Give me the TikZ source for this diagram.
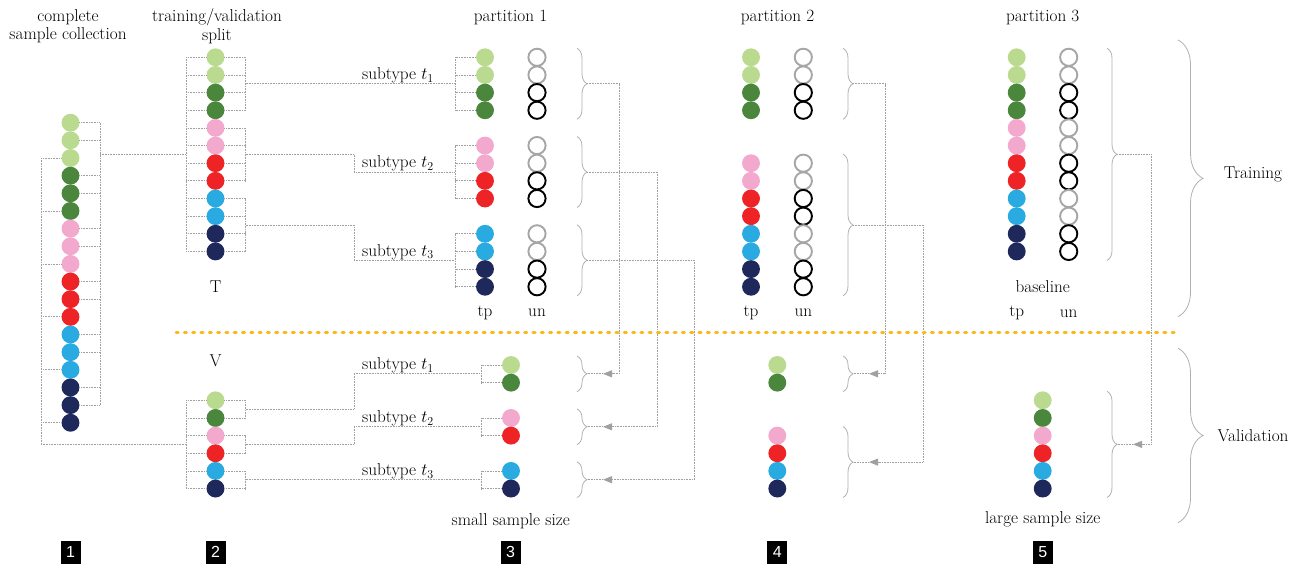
\documentclass[tikz,border=0pt]{standalone}
\usepackage{fontspec}
\newfontfamily\badgefont{Liberation Sans}
\usetikzlibrary{decorations.pathreplacing,arrows.meta}
\definecolor{lg}{HTML}{B9DA8F}
\definecolor{dg}{HTML}{4A863C}
\definecolor{pk}{HTML}{F3A8CE}
\definecolor{rd}{HTML}{EE2326}
\definecolor{bl}{HTML}{29ABE2}
\definecolor{nv}{HTML}{1F285A}
\definecolor{hg}{HTML}{A6A6A6}
\definecolor{linkgray}{HTML}{A0A0A0}
\definecolor{bracegray}{HTML}{B0B0B0}
\definecolor{orng}{HTML}{FBB81B}
\begin{document}
\begin{tikzpicture}[x=1pt,y=-1pt,
  dot/.style={circle,fill=#1,minimum size=17.9pt,inner sep=0pt,outer sep=0pt},
  hole/.style={circle,draw=#1,line width=1.9pt,minimum size=17.2pt,inner sep=0pt,outer sep=0pt},
  link/.style={draw=linkgray,line width=0.8pt,dash pattern=on 1pt off 0.6pt},
  br/.style={draw=bracegray,line width=0.8pt,decorate,decoration={brace,amplitude=#1}},
  br/.default=10pt,
  tipped/.style={link,-{Triangle[length=9pt,width=7pt]}},
  lbl/.style={font=\fontsize{17.2}{18.5}\selectfont,inner sep=0pt},
  badge/.style={fill=black,text=white,minimum width=20pt,minimum height=23pt,inner sep=0pt,font=\badgefont\fontsize{16}{16}\selectfont}
]
\useasboundingbox (0,0) rectangle (1297,567);

% ---------- headings ----------
\node[lbl,align=center] (h1) at (68,26) {complete\\sample collection};
\node[lbl,align=center] (h2) at (217,26) {training/validation\\split};
\node[lbl] (h3) at (510.5,17) {partition 1};
\node[lbl] (h4) at (777.5,17) {partition 2};
\node[lbl] (h5) at (1042.7,17) {partition 3};

% ---------- column 1 ----------
\foreach \c [count=\k from 0] in {lg,lg,lg,dg,dg,dg,pk,pk,pk,rd,rd,rd,bl,bl,bl,nv,nv,nv}
  \node[dot=\c] (a\k) at (70.5,{122.7+17.65*\k}) {};
\coordinate (aR0) at (100,122.7);
\coordinate (aR1) at (100,{122.7+17.65*16});
\coordinate (aL0) at (41,{122.7+17.65*2});
\coordinate (aL1) at (41,444.4);
\foreach \k in {0,1,3,4,6,7,9,10,12,13,15,16} \draw[link] (a\k.east) -- (a\k.east -| aR0);
\foreach \k in {2,5,8,11,14,17} \draw[link] (a\k.west) -- (a\k.west -| aL0);
\draw[link] (aR0) -- (aR1);
\draw[link] (aL0) -- (aL1);

% ---------- column 2 training ----------
\foreach \c [count=\k from 0] in {lg,lg,dg,dg,pk,pk,rd,rd,bl,bl,nv,nv}
  \node[dot=\c] (b\k) at (215.5,{57.3+17.65*\k}) {};
\coordinate (bL) at (186,57.3);
\coordinate (bR) at (245.5,57.3);
\foreach \k in {0,...,11} {
  \draw[link] (b\k.west) -- (b\k.west -| bL);
  \draw[link] (b\k.east) -- (b\k.east -| bR);
}
\draw[link] (b0.west -| bL) -- (b11.west -| bL);
\draw[link] (b0.east -| bR) -- (b3.east -| bR);
\draw[link] (b4.east -| bR) -- (b7.east -| bR);
\draw[link] (b8.east -| bR) -- (b11.east -| bR);
\coordinate (aOut) at (100,154.4);
\coordinate (bIn) at (186,154.4);
\draw[link] (aOut) -- (bIn);

\node[lbl] (T) at (215.5,286.7) {T};
\node[lbl] (V) at (215.5,360.7) {V};

% ---------- column 2 validation ----------
\foreach \k/\c in {2/lg,3/dg,4/pk,5/rd,6/bl,7/nv}
  \node[dot=\c] (c\k) at (215.5,{365+17.65*\k}) {};
\coordinate (cL) at (186,400.3);
\coordinate (cR) at (245.5,400.3);
\foreach \k in {2,...,7} {
  \draw[link] (c\k.west) -- (c\k.west -| cL);
  \draw[link] (c\k.east) -- (c\k.east -| cR);
}
\draw[link] (c2.west -| cL) -- (c7.west -| cL);
\draw[link] (c2.east -| cR) -- (c3.east -| cR);
\draw[link] (c4.east -| cR) -- (c5.east -| cR);
\draw[link] (c6.east -| cR) -- (c7.east -| cR);
\coordinate (cIn) at (186,444.4);
\draw[link] (aL1) -- (cIn);

% ---------- partition 1 training ----------
\foreach \k/\c/\h in {0/lg/hg,1/lg/hg,2/dg/black,3/dg/black,5/pk/hg,6/pk/hg,7/rd/black,8/rd/black,10/bl/hg,11/bl/hg,12/nv/black,13/nv/black} {
  \node[dot=\c] (pa\k) at (485,{57.3+17.65*\k}) {};
  \node[hole=\h] (ua\k) at (537,{57.3+17.65*\k}) {};
}
\coordinate (paL) at (455,57.3);
\foreach \k in {0,1,2,3,5,6,7,8,10,11,12,13} \draw[link] (pa\k.west) -- (pa\k.west -| paL);
\draw[link] (pa0.west -| paL) -- (pa3.west -| paL);
\draw[link] (pa5.west -| paL) -- (pa8.west -| paL);
\draw[link] (pa10.west -| paL) -- (pa13.west -| paL);
\node[lbl] (tp1) at (485,312.7) {tp};
\node[lbl] (un1) at (537,312.7) {un};

% connectors column 2 -> partition 1 (training)
\coordinate (g0a) at (245.5,83.78); \coordinate (g0b) at (455,83.78);
\coordinate (g1a) at (245.5,154.4); \coordinate (g1b) at (354,154.4); \coordinate (g1c) at (354,172.0); \coordinate (g1d) at (455,172.0);
\coordinate (g2a) at (245.5,225.0); \coordinate (g2b) at (354,225.0); \coordinate (g2c) at (354,260.3); \coordinate (g2d) at (455,260.3);
\draw[link] (g0a) -- (g0b);
\draw[link] (g1a) -- (g1b) -- (g1c) -- (g1d);
\draw[link] (g2a) -- (g2b) -- (g2c) -- (g2d);
\node[lbl] (st1) at (398,75.5) {subtype $t_1$};
\node[lbl] (st2) at (398,163.5) {subtype $t_2$};
\node[lbl] (st3) at (398,251.8) {subtype $t_3$};

% ---------- partition 1 validation ----------
\foreach \k/\c in {0/lg,1/dg,3/pk,4/rd,6/bl,7/nv}
  \node[dot=\c] (va\k) at (511,{365+17.65*\k}) {};
\coordinate (vaL) at (481,365);
\foreach \k in {0,1,3,4,6,7} \draw[link] (va\k.west) -- (va\k.west -| vaL);
\draw[link] (va0.west -| vaL) -- (va1.west -| vaL);
\draw[link] (va3.west -| vaL) -- (va4.west -| vaL);
\draw[link] (va6.west -| vaL) -- (va7.west -| vaL);
\coordinate (h0a) at (245.5,409.1); \coordinate (h0b) at (354,409.1); \coordinate (h0c) at (354,373.8); \coordinate (h0d) at (481,373.8);
\coordinate (h1a) at (245.5,444.4); \coordinate (h1b) at (354,444.4); \coordinate (h1c) at (354,426.8); \coordinate (h1d) at (481,426.8);
\coordinate (h2a) at (245.5,479.7); \coordinate (h2d) at (481,479.7);
\draw[link] (h0a) -- (h0b) -- (h0c) -- (h0d);
\draw[link] (h1a) -- (h1b) -- (h1c) -- (h1d);
\draw[link] (h2a) -- (h2d);
\node[lbl] (sv1) at (398,365.5) {subtype $t_1$};
\node[lbl] (sv2) at (398,418.5) {subtype $t_2$};
\node[lbl] (sv3) at (398,471.2) {subtype $t_3$};
\node[lbl] (small) at (510.7,521) {small sample size};

% ---------- partition 2 ----------
\foreach \k/\c/\h in {0/lg/hg,1/lg/hg,2/dg/black,3/dg/black,6/pk/hg,7/pk/hg,8/rd/black,9/rd/black,10/bl/hg,11/bl/hg,12/nv/black,13/nv/black} {
  \node[dot=\c] (pb\k) at (751,{57.3+17.65*\k}) {};
  \node[hole=\h] (ub\k) at (803.3,{57.3+17.65*\k}) {};
}
\node[lbl] (tp2) at (751,312.7) {tp};
\node[lbl] (un2) at (803.3,312.7) {un};
\foreach \k/\c in {0/lg,1/dg,4/pk,5/rd,6/bl,7/nv}
  \node[dot=\c] (vb\k) at (777.3,{365+17.65*\k}) {};

% ---------- partition 3 ----------
\foreach \c/\h [count=\k from 0] in {lg/hg,lg/hg,dg/black,dg/black,pk/hg,pk/hg,rd/black,rd/black,bl/hg,bl/hg,nv/black,nv/black} {
  \node[dot=\c] (pc\k) at (1016.7,{57.3+17.65*\k}) {};
  \node[hole=\h] (uc\k) at (1068.7,{57.3+17.65*\k}) {};
}
\node[lbl] (base) at (1042.7,286.7) {baseline};
\node[lbl] (tp3) at (1016.7,313.3) {tp};
\node[lbl] (un3) at (1068.7,313.3) {un};
\foreach \k/\c in {2/lg,3/dg,4/pk,5/rd,6/bl,7/nv}
  \node[dot=\c] (vc\k) at (1042.7,{365+17.65*\k}) {};
\node[lbl] (large) at (1042.7,519.3) {large sample size};

% ---------- braces ----------
\draw[br] (577,48.3) -- (577,119.25);
\draw[br] (577,136.55) -- (577,207.5);
\draw[br] (577,224.8) -- (577,295.75);
\draw[br] (577,356) -- (577,391.65);
\draw[br] (577,408.95) -- (577,444.6);
\draw[br] (577,461.9) -- (577,497.55);
\draw[br] (843,48.3) -- (843,119.25);
\draw[br] (843,154.2) -- (843,295.75);
\draw[br] (843,356) -- (843,391.65);
\draw[br] (843,426.6) -- (843,497.55);
\draw[br] (1107,48.3) -- (1107,260.45);
\draw[br] (1107,391.3) -- (1107,497.55);
\draw[br=25pt] (1178,40) -- (1178,316.7);
\draw[br=25pt] (1178,348.3) -- (1178,522.7);
\node[lbl] (train) at (1253,174.3) {Training};
\node[lbl] (valid) at (1253,436) {Validation};

% brace tips
\coordinate (ta0) at (587,83.78);  \coordinate (ta1) at (587,172.0); \coordinate (ta2) at (587,260.3);
\coordinate (wa0) at (587,373.8);  \coordinate (wa1) at (587,426.8); \coordinate (wa2) at (587,479.7);
\coordinate (tb0) at (853,83.78);  \coordinate (tb1) at (853,225.0);
\coordinate (wb0) at (853,373.8);  \coordinate (wb1) at (853,462.1);
\coordinate (tc0) at (1117,154.4); \coordinate (wc0) at (1117,444.4);
% arrow ends
\coordinate (xa0) at (603,373.8); \coordinate (xa1) at (603,426.8); \coordinate (xa2) at (603,479.7);
\coordinate (xb0) at (869,373.8); \coordinate (xb1) at (869,462.1);
\coordinate (xc0) at (1133,444.4);
% corners
\coordinate (ka0) at (619.3,83.78); \coordinate (la0) at (619.3,373.8);
\coordinate (ka1) at (657.3,172.0); \coordinate (la1) at (657.3,426.8);
\coordinate (ka2) at (694.3,260.3); \coordinate (la2) at (694.3,479.7);
\coordinate (kb0) at (885.7,83.78); \coordinate (lb0) at (885.7,373.8);
\coordinate (kb1) at (923,225.0);   \coordinate (lb1) at (923,462.1);
\coordinate (kc0) at (1151,154.4);  \coordinate (lc0) at (1151,444.4);

\foreach \p in {a0,a1,a2,b0,b1,c0} {
  \draw[tipped] (t\p) -- (k\p) -- (l\p) -- (x\p);
  \draw[link] (x\p) -- (w\p);
}

% ---------- dashed separator ----------
\coordinate (oL) at (176,332.7);
\coordinate (oR) at (1175,332.7);
\draw[orng,line width=2.8pt,line cap=round,dash pattern=on 2.2pt off 6.1pt] (oL) -- (oR);

% ---------- badges ----------
\node[badge] (n1) at (70.5,552) {1};
\node[badge] (n2) at (215.5,552) {2};
\node[badge] (n3) at (510.5,552) {3};
\node[badge] (n4) at (777.3,552) {4};
\node[badge] (n5) at (1042.7,552) {5};
\end{tikzpicture}
\end{document}
